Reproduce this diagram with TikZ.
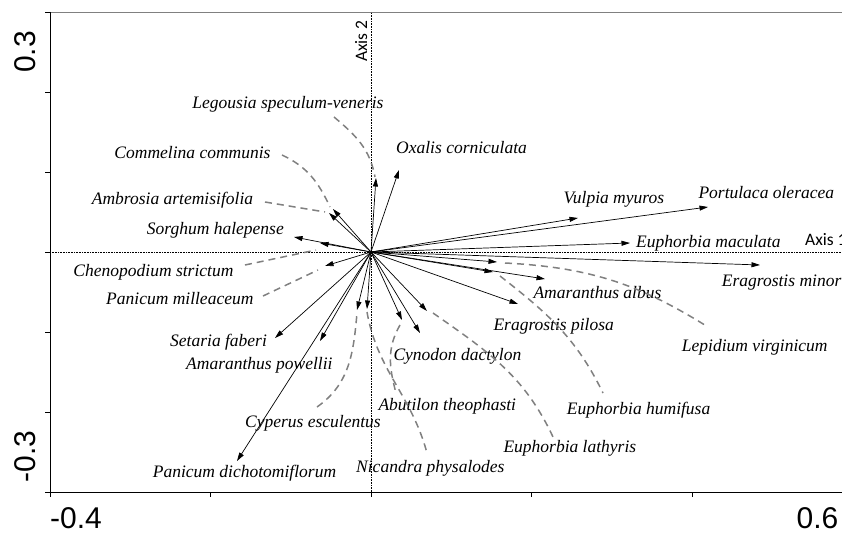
\documentclass[tikz,border=0pt]{standalone}
\usepackage{fontspec}
\setmainfont{Liberation Serif}
\newfontfamily\axisfont{Carlito}
\newfontfamily\tickfont{Liberation Sans}
\usetikzlibrary{arrows.meta}

\tikzset{
  species/.style={anchor=base west, inner sep=0pt, font=\itshape\fontsize{17.5}{20}\selectfont},
  vector/.style={-{Triangle[length=8.5pt,width=5pt]}, line width=0.7pt},
  leader/.style={draw=gray, line width=1.5pt, dash pattern=on 7pt off 5pt},
  axisdot/.style={line width=0.6pt, dash pattern=on 0.6pt off 1pt},
  ticklab/.style={inner sep=0pt, font=\tickfont\fontsize{30}{36}\selectfont},
  axislab/.style={inner sep=0pt, font=\axisfont\fontsize{17.5}{20}\selectfont}
}

\begin{document}
\begin{tikzpicture}[x=1pt,y=1pt]
\useasboundingbox (-371,-280) rectangle (471,252);

\draw[gray, line width=0.8pt] (-321,240) -- (471,240);
\draw[line width=0.8pt] (-321,240) -- (-321,-240) -- (471,-240);
\draw[line width=0.8pt] (-321,240) -- (-326,240) (-321,160) -- (-326,160) (-321,80) -- (-326,80)
    (-321,0) -- (-326,0) (-321,-80) -- (-326,-80) (-321,-160) -- (-326,-160) (-321,-240) -- (-326,-240);
\draw[line width=0.8pt] (-321,-240) -- (-321,-245) (-160.5,-240) -- (-160.5,-245) (0,-240) -- (0,-245)
    (160.5,-240) -- (160.5,-245) (321,-240) -- (321,-245);
\draw[axisdot] (-321,0) -- (471,0);
\draw[axisdot] (0,-240) -- (0,240);

\node[ticklab, rotate=90] (ytop) at (-346,200) {0.3};
\node[ticklab, rotate=90] (ybot) at (-346,-204.5) {-0.3};
\node[ticklab] (xleft) at (-295,-266) {-0.4};
\node[ticklab] (xright) at (446.5,-266) {0.6};
\node[axislab, rotate=90, anchor=base west] (axis2) at (-4,190) {Axis 2};
\node[axislab, anchor=base west] (axis1) at (434,6) {Axis 1};

\coordinate (O) at (0,0);
\coordinate (oxalis) at (28,82);
\coordinate (legousia) at (5,74);
\coordinate (commelina) at (-38,43);
\coordinate (ambrosia) at (-42,39);
\coordinate (sorghum) at (-77,15);
\coordinate (chenopodium) at (-51,9);
\coordinate (milleaceum) at (-46,-14);
\coordinate (setaria) at (-96,-86);
\coordinate (powellii) at (-51,-89);
\coordinate (dichotomiflorum) at (-134,-209);
\coordinate (cyperus) at (-14,-58);
\coordinate (nicandra) at (-4,-57);
\coordinate (abutilon) at (31,-68);
\coordinate (cynodon) at (49,-81);
\coordinate (lathyris) at (56,-59);
\coordinate (pilosa) at (147,-52);
\coordinate (albus) at (174,-27);
\coordinate (humifusa) at (122,-20);
\coordinate (lepidium) at (126,-10);
\coordinate (minor) at (389,-13);
\coordinate (maculata) at (259,9);
\coordinate (portulaca) at (337,45);
\coordinate (vulpia) at (207,34);

\draw[vector] (O) -- (oxalis);
\draw[vector] (O) -- (legousia);
\draw[vector] (O) -- (commelina);
\draw[vector] (O) -- (ambrosia);
\draw[vector] (O) -- (sorghum);
\draw[vector] (O) -- (chenopodium);
\draw[vector] (O) -- (milleaceum);
\draw[vector] (O) -- (setaria);
\draw[vector] (O) -- (powellii);
\draw[vector] (O) -- (dichotomiflorum);
\draw[vector] (O) -- (cyperus);
\draw[vector] (O) -- (nicandra);
\draw[vector] (O) -- (abutilon);
\draw[vector] (O) -- (cynodon);
\draw[vector] (O) -- (lathyris);
\draw[vector] (O) -- (pilosa);
\draw[vector] (O) -- (albus);
\draw[vector] (O) -- (humifusa);
\draw[vector] (O) -- (lepidium);
\draw[vector] (O) -- (minor);
\draw[vector] (O) -- (maculata);
\draw[vector] (O) -- (portulaca);
\draw[vector] (O) -- (vulpia);

\node[species] (oxalis-t) at (25,98) {Oxalis corniculata};
\node[species] (legousia-t) at (-178.7,143) {Legousia speculum-veneris};
\node[species] (commelina-t) at (-256.7,93.7) {Commelina communis};
\node[species] (ambrosia-t) at (-279.3,47) {Ambrosia artemisifolia};
\node[species] (sorghum-t) at (-224.3,17.7) {Sorghum halepense};
\node[species] (chenopodium-t) at (-297.7,-24) {Chenopodium strictum};
\node[species] (milleaceum-t) at (-265,-52.3) {Panicum milleaceum};
\node[species] (setaria-t) at (-201,-94.7) {Setaria faberi};
\node[species] (powellii-t) at (-185,-117.3) {Amaranthus powellii};
\node[species] (cyperus-t) at (-126,-175.7) {Cyperus esculentus};
\node[species] (dichotomiflorum-t) at (-218.3,-225.3) {Panicum dichotomiflorum};
\node[species] (nicandra-t) at (-15,-220.3) {Nicandra physalodes};
\node[species] (abutilon-t) at (7.3,-158) {Abutilon theophasti};
\node[species] (cynodon-t) at (22.3,-108) {Cynodon dactylon};
\node[species] (lathyris-t) at (132.3,-200.7) {Euphorbia lathyris};
\node[species] (humifusa-t) at (195.7,-162) {Euphorbia humifusa};
\node[species] (pilosa-t) at (122.3,-78.7) {Eragrostis pilosa};
\node[species] (albus-t) at (162.3,-46.3) {Amaranthus albus};
\node[species] (lepidium-t) at (310.7,-99.7) {Lepidium virginicum};
\node[species] (minor-t) at (350.7,-34.7) {Eragrostis minor};
\node[species] (maculata-t) at (265,4.7) {Euphorbia maculata};
\node[species] (portulaca-t) at (327.3,53) {Portulaca oleracea};
\node[species] (vulpia-t) at (192.3,48) {Vulpia myuros};

\coordinate (legousia-l) at (-37,135);
\coordinate (legousia-e) at (4,75);
\coordinate (commelina-l) at (-89,97);
\coordinate (commelina-e) at (-41,45);
\coordinate (ambrosia-l) at (-106,50);
\coordinate (ambrosia-e) at (-46,40);
\coordinate (chenopodium-l) at (-126,-13);
\coordinate (chenopodium-e) at (-55,2);
\coordinate (milleaceum-l) at (-108,-44);
\coordinate (milleaceum-e) at (-53,-18);
\coordinate (cyperus-l) at (-54,-155);
\coordinate (cyperus-e) at (-14,-61);
\coordinate (nicandra-l) at (56,-201);
\coordinate (nicandra-e) at (-4,-60);
\coordinate (abutilon-l) at (25,-141);
\coordinate (abutilon-e) at (29,-73);
\coordinate (lathyris-l) at (182,-185);
\coordinate (lathyris-e) at (62,-61);
\coordinate (humifusa-l) at (232,-141);
\coordinate (humifusa-e) at (129,-24);
\coordinate (lepidium-l) at (337,-75);
\coordinate (lepidium-e) at (134,-11);

\draw[leader] (legousia-l) to[out=-40,in=100] (legousia-e);
\draw[leader] (commelina-l) to[out=-25,in=115] (commelina-e);
\draw[leader] (ambrosia-l) -- (ambrosia-e);
\draw[leader] (chenopodium-l) -- (chenopodium-e);
\draw[leader] (milleaceum-l) -- (milleaceum-e);
\draw[leader] (cyperus-l) to[out=35,in=-95] (cyperus-e);
\draw[leader] (nicandra-e) to[out=-80,in=105] (nicandra-l);
\draw[leader] (abutilon-e) to[out=-120,in=105] (abutilon-l);
\draw[leader] (lathyris-e) to[out=-35,in=115] (lathyris-l);
\draw[leader] (humifusa-e) to[out=-38,in=116] (humifusa-l);
\draw[leader] (lepidium-e) to[out=-3,in=148] (lepidium-l);
\end{tikzpicture}
\end{document}
